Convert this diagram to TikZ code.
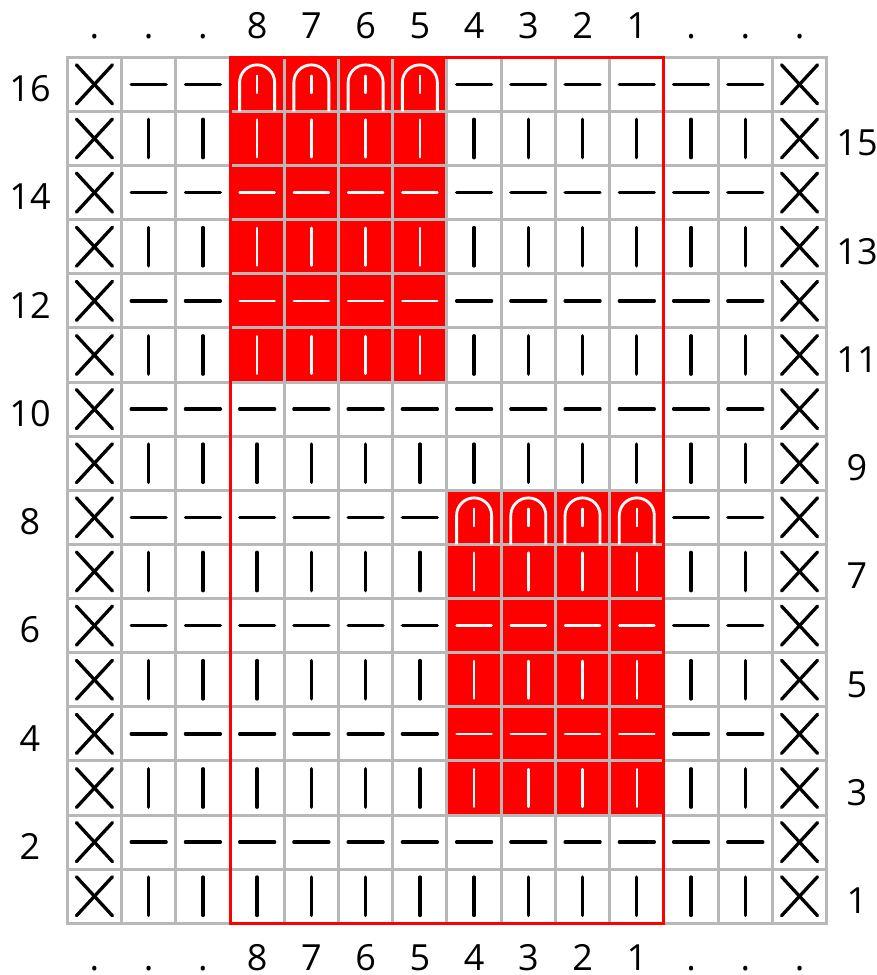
\documentclass[tikz,border=0pt]{standalone}
\usepackage{fontspec}
\setmainfont{Open Sans}
\definecolor{gridc}{RGB}{184,184,184}
\definecolor{knitred}{RGB}{255,0,0}
\begin{document}
\begin{tikzpicture}[x=1pt,y=-1pt,
  gridline/.style={gridc, line width=3pt, line cap=rect},
  blk/.style={black, line width=3.3pt, line cap=round},
  wht/.style={white, line width=2.4pt, line cap=round},
  archline/.style={white, line width=2.8pt},
  outline/.style={knitred, line width=3pt},
  lab/.style={anchor=base, inner sep=0pt, font=\fontsize{36}{43}\selectfont}]
\useasboundingbox (0,0) rectangle (877,975);
% red blocks
\fill[knitred] (230.02,57.3) rectangle (446.98,382.05);
\fill[knitred] (446.98,490.3) rectangle (663.94,815.05);
% grid
\foreach \i in {0,...,14}{
  \draw[gridline] ({67.3+\i*54.24},57.3) -- ({67.3+\i*54.24},923.3);
}
\foreach \j in {0,...,16}{
  \draw[gridline] (67.3,{57.3+\j*54.125}) -- (826.66,{57.3+\j*54.125});
}
% symbols
\foreach \c in {1,...,14}{
  \foreach \r in {1,...,16}{
    \pgfmathsetmacro\cx{67.3+(\c-0.5)*54.24}
    \pgfmathsetmacro\cy{57.3+(16.5-\r)*54.125}
    \pgfmathtruncatemacro\red{or(and(and(\c>3,\c<8),\r>10),and(and(\c>7,\c<12),and(\r>2,\r<9)))}
    \pgfmathtruncatemacro\edge{or(\c==1,\c==14)}
    \pgfmathtruncatemacro\even{mod(\r,2)==0}
    \pgfmathtruncatemacro\arch{and(\red==1,or(\r==16,\r==8))}
    \ifnum\edge=1
      \draw[blk] ({\cx-18},{\cy-19.5}) -- ({\cx+18},{\cy+19.5});
      \draw[blk] ({\cx-18},{\cy+19.5}) -- ({\cx+18},{\cy-19.5});
    \else
      \ifnum\red=1
        \ifnum\arch=1
          \draw[archline] ({\cx-17.5},{\cy+27}) -- ({\cx-17.5},{\cy-2})
            arc[start angle=180, end angle=0, radius=17.5pt] -- ({\cx+17.5},{\cy+27});
          \draw[wht] (\cx,{\cy-8.6}) -- (\cx,{\cy+8.6});
        \else
          \ifnum\even=1
            \draw[wht] ({\cx-17.5},\cy) -- ({\cx+17.5},\cy);
          \else
            \draw[wht] (\cx,{\cy-18.8}) -- (\cx,{\cy+18.8});
          \fi
        \fi
      \else
        \ifnum\even=1
          \draw[blk] ({\cx-17.5},\cy) -- ({\cx+17.5},\cy);
        \else
          \draw[blk] (\cx,{\cy-19.2}) -- (\cx,{\cy+19.2});
        \fi
      \fi
    \fi
  }
}
% red outline
\draw[outline] (230.02,57.3) rectangle (663.94,923.3);
% column labels
\foreach \c/\t in {1/.,2/.,3/.,4/8,5/7,6/6,7/5,8/4,9/3,10/2,11/1,12/.,13/.,14/.}{
  \pgfmathsetmacro\cx{67.3+(\c-0.5)*54.24}
  \node[lab] (top\c) at (\cx,38) {\t};
  \node[lab] (bot\c) at (\cx,970) {\t};
}
% row labels
\foreach \r in {2,4,...,16}{
  \pgfmathsetmacro\cy{57.3+(16.5-\r)*54.125+17.3}
  \node[lab] (left\r) at (30,\cy) {\r};
}
\foreach \r in {1,3,...,15}{
  \pgfmathsetmacro\cy{57.3+(16.5-\r)*54.125+17.3}
  \node[lab] (right\r) at (857,\cy) {\r};
}
\end{tikzpicture}
\end{document}
